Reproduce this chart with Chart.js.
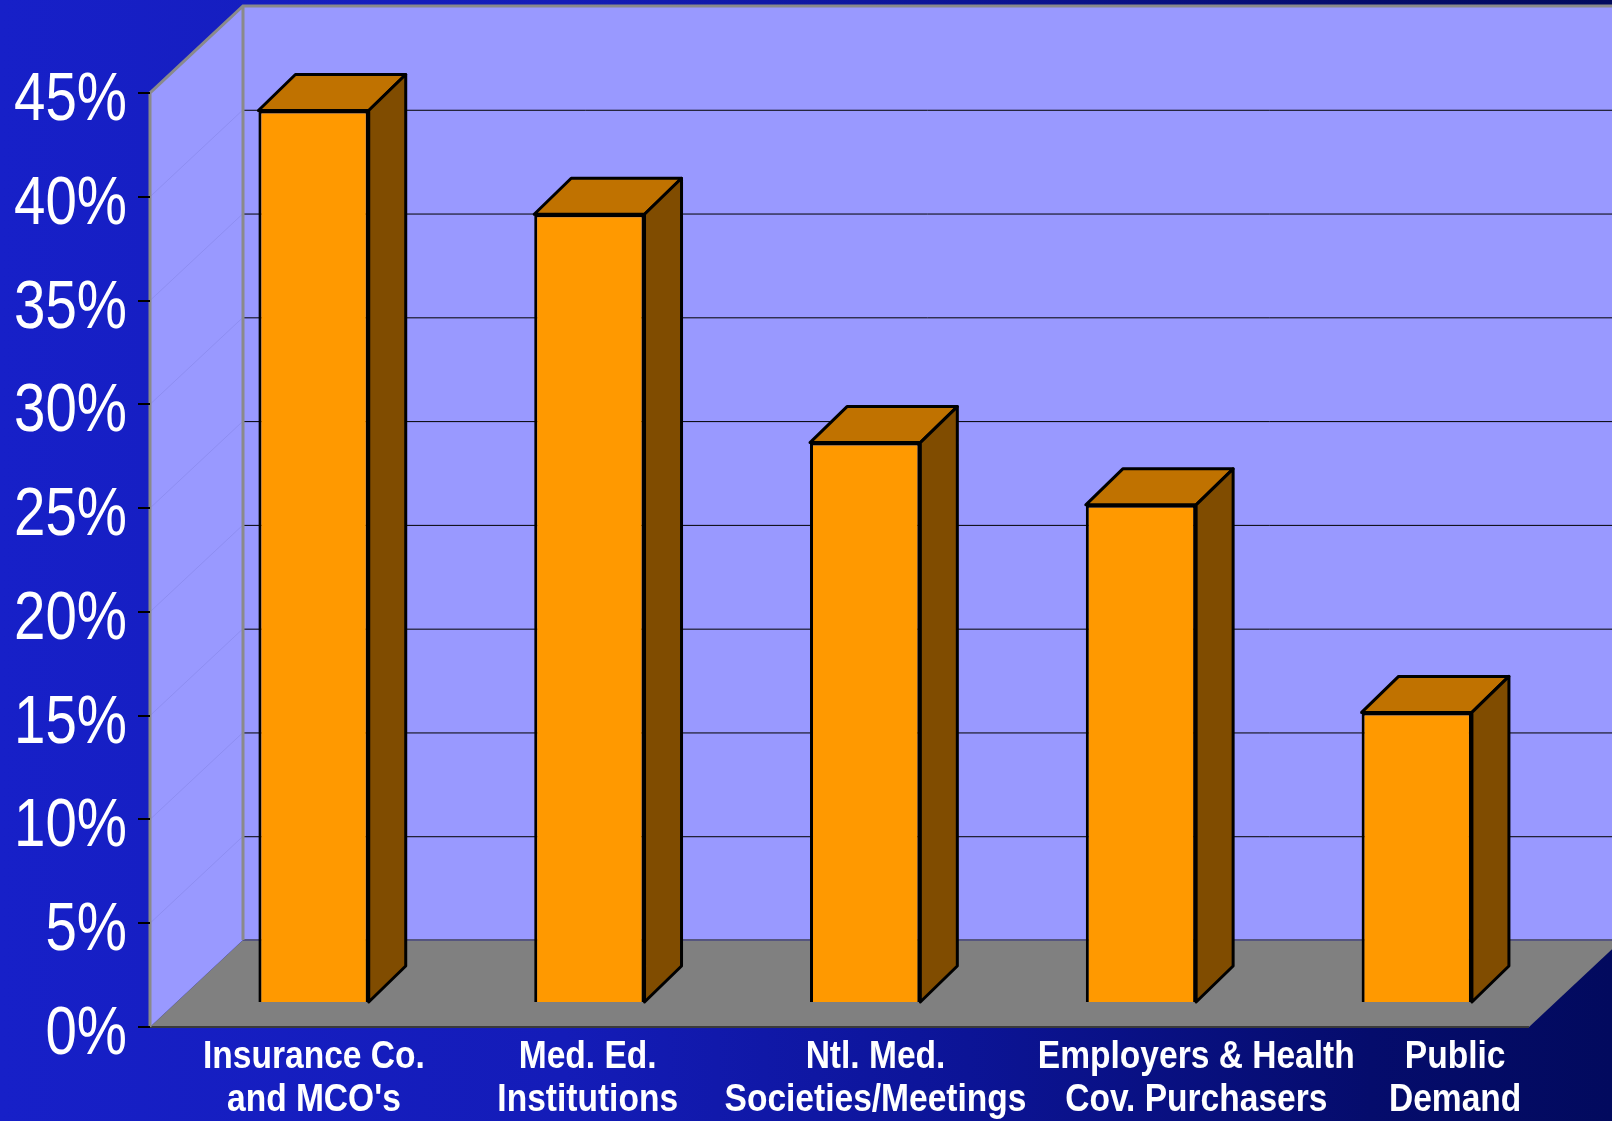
<!DOCTYPE html>
<html lang="en">
<head>
  <meta charset="UTF-8">
  <title>Influence on Quality of Care</title>
  <script src="https://cdn.jsdelivr.net/npm/chart.js"></script>
  <style>
    html, body {
      margin: 0;
      padding: 0;
      background-color: #0d1599;
    }
    canvas {
      display: block;
    }
  </style>
</head>
<body>
  <canvas id="chart" width="1612" height="1121"></canvas>

  <script>
    const categories = [
      ['Insurance Co.', "and MCO's"],
      ['Med. Ed.', 'Institutions'],
      ['Ntl. Med.', 'Societies/Meetings'],
      ['Employers & Health', 'Cov. Purchasers'],
      ['Public', 'Demand']
    ];
    const shares = [43, 38, 27, 24, 14];
    const yMin = 0;
    const yMax = 45;
    const yStep = 5;

    const FONT = '"Liberation Sans", Arial, sans-serif';

    // 3d look: depth of the walls, where the bars stand and how deep they are
    const WALL_DX = 93, WALL_DY = 87;
    const BAR_FRONT = 0.276;
    const BAR_DX = 37, BAR_DY = 36;
    const LABEL_SHIFT = [26, 24, 36, 81, 64];

    // no narrow font installed, so squeeze the text by hand
    function narrowText(ctx, text, x, y, squeeze) {
      ctx.save();
      ctx.translate(x, y);
      ctx.scale(squeeze, 1);
      ctx.fillText(text, 0, 0);
      ctx.restore();
    }

    const backdrop = {
      id: 'backdrop',
      beforeDraw(chart) {
        const { ctx, chartArea: a, scales } = chart;
        const W = chart.width, H = chart.height;
        const y = scales.y;

        const g = ctx.createLinearGradient(0, 0, W, 0);
        g.addColorStop(0, '#1720c8');
        g.addColorStop(0.35, '#141cb8');
        g.addColorStop(0.6, '#0c1496');
        g.addColorStop(0.85, '#050c6c');
        g.addColorStop(1, '#020a5e');
        ctx.save();
        ctx.fillStyle = g;
        ctx.fillRect(0, 0, W, H);

        const top = y.getPixelForValue(yMax);
        const bot = y.getPixelForValue(yMin);
        const bx = a.left + WALL_DX;

        // back wall
        ctx.fillStyle = '#9999ff';
        ctx.fillRect(bx, top - WALL_DY, W - bx, bot - top);

        // side wall
        ctx.beginPath();
        ctx.moveTo(a.left, top);
        ctx.lineTo(bx, top - WALL_DY);
        ctx.lineTo(bx, bot - WALL_DY);
        ctx.lineTo(a.left, bot);
        ctx.closePath();
        ctx.fill();

        // floor
        ctx.fillStyle = '#808080';
        ctx.beginPath();
        ctx.moveTo(a.left, bot);
        ctx.lineTo(bx, bot - WALL_DY);
        ctx.lineTo(a.right + WALL_DX, bot - WALL_DY);
        ctx.lineTo(a.right, bot);
        ctx.closePath();
        ctx.fill();

        // gridlines
        for (let v = yMin + yStep; v < yMax; v += yStep) {
          const py = y.getPixelForValue(v);
          ctx.strokeStyle = '#000000';
          ctx.lineWidth = 1;
          ctx.beginPath();
          ctx.moveTo(bx, py - WALL_DY + 0.5);
          ctx.lineTo(W, py - WALL_DY + 0.5);
          ctx.stroke();
          ctx.strokeStyle = '#8e8ef2';
          ctx.beginPath();
          ctx.moveTo(a.left, py);
          ctx.lineTo(bx, py - WALL_DY);
          ctx.stroke();
        }

        // seam floor / back wall
        ctx.strokeStyle = '#55557f';
        ctx.lineWidth = 2;
        ctx.beginPath();
        ctx.moveTo(bx, bot - WALL_DY);
        ctx.lineTo(W, bot - WALL_DY);
        ctx.stroke();

        // floor front edge
        ctx.strokeStyle = '#3a3a3a';
        ctx.beginPath();
        ctx.moveTo(a.left, bot);
        ctx.lineTo(a.right, bot);
        ctx.stroke();

        // wall edges
        ctx.strokeStyle = '#8a8a8a';
        ctx.lineWidth = 3;
        ctx.beginPath();
        ctx.moveTo(a.left, bot);
        ctx.lineTo(a.left, top);
        ctx.lineTo(bx, top - WALL_DY);
        ctx.lineTo(W, top - WALL_DY);
        ctx.moveTo(bx, top - WALL_DY);
        ctx.lineTo(bx, bot - WALL_DY);
        ctx.stroke();
        ctx.restore();
      }
    };

    const bars3d = {
      id: 'bars3d',
      beforeDatasetsDraw(chart) {
        const { ctx } = chart;
        ctx.save();
        ctx.translate(WALL_DX * BAR_FRONT, -WALL_DY * BAR_FRONT);
      },
      afterDatasetsDraw(chart) {
        const { ctx } = chart;
        const meta = chart.getDatasetMeta(0);
        ctx.lineWidth = 3;
        ctx.lineJoin = 'round';
        ctx.strokeStyle = '#000000';
        meta.data.forEach(bar => {
          const l = bar.x - bar.width / 2;
          const r = bar.x + bar.width / 2;
          const t = bar.y;
          const b = bar.base;

          ctx.fillStyle = '#c07200';
          ctx.beginPath();
          ctx.moveTo(l, t);
          ctx.lineTo(l + BAR_DX, t - BAR_DY);
          ctx.lineTo(r + BAR_DX, t - BAR_DY);
          ctx.lineTo(r, t);
          ctx.closePath();
          ctx.fill();
          ctx.stroke();

          ctx.fillStyle = '#804c00';
          ctx.beginPath();
          ctx.moveTo(r, t);
          ctx.lineTo(r + BAR_DX, t - BAR_DY);
          ctx.lineTo(r + BAR_DX, b - BAR_DY);
          ctx.lineTo(r, b);
          ctx.closePath();
          ctx.fill();
          ctx.stroke();
        });
        ctx.restore();
      }
    };

    const axisText = {
      id: 'axisText',
      afterDraw(chart) {
        const { ctx, chartArea: a } = chart;
        const x = chart.scales.x;
        const y = chart.scales.y;
        ctx.save();
        ctx.fillStyle = '#ffffff';

        // value ticks
        ctx.font = '68px ' + FONT;
        ctx.textAlign = 'right';
        ctx.textBaseline = 'alphabetic';
        y.ticks.forEach((t, i) => {
          narrowText(ctx, t.value + '%', a.left - 23, y.getPixelForTick(i) + 27, 0.83);
        });

        // category labels
        ctx.font = 'bold 39px ' + FONT;
        ctx.textAlign = 'center';
        ctx.textBaseline = 'middle';
        categories.forEach((lines, i) => {
          const px = x.getPixelForValue(i) + LABEL_SHIFT[i];
          lines.forEach((line, j) => {
            narrowText(ctx, line, px, a.bottom + 30 + j * 43, 0.86);
          });
        });
        ctx.restore();
      }
    };

    new Chart(document.getElementById('chart'), {
      type: 'bar',
      data: {
        labels: categories,
        datasets: [{
          data: shares,
          backgroundColor: '#ff9900',
          borderColor: '#000000',
          borderWidth: 3,
          barPercentage: 0.4,
          categoryPercentage: 1.0,
          clip: false
        }]
      },
      options: {
        responsive: false,
        animation: false,
        layout: {
          padding: { top: 93, right: 83, left: 0, bottom: 0 }
        },
        plugins: {
          legend: { display: false },
          tooltip: { enabled: false }
        },
        scales: {
          x: {
            ticks: { display: false },
            grid: { display: false },
            border: { display: false },
            afterFit(scale) { scale.height = 94; }
          },
          y: {
            min: yMin,
            max: yMax,
            ticks: {
              stepSize: yStep,
              color: 'rgba(0,0,0,0)',
              padding: 11,
              font: { family: FONT, size: 68 },
              callback: v => v + '%'
            },
            grid: {
              drawOnChartArea: false,
              drawTicks: true,
              tickLength: 12,
              color: '#000000',
              lineWidth: 2
            },
            border: { display: false },
            afterFit(scale) { scale.width = 150; }
          }
        }
      },
      plugins: [backdrop, bars3d, axisText]
    });
  </script>
</body>
</html>
